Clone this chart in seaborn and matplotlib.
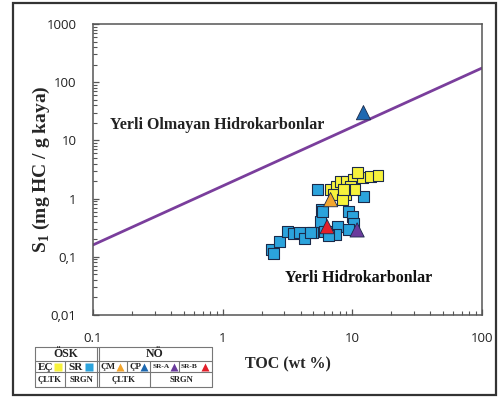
import matplotlib
matplotlib.use("Agg")
import matplotlib.pyplot as plt
from matplotlib.lines import Line2D
from matplotlib.patches import Rectangle
import seaborn as sns
import pandas as pd

# --- data -------------------------------------------------------------
# ÖSK samples (squares)
ec_toc = [6.8, 7.6, 8.1, 9.1, 10.2, 11.9, 13.8, 15.8, 10.9, 9.7, 8.8, 7.1, 8.4, 10.5, 8.6]
ec_s1 = [1.43, 1.61, 1.96, 1.96, 2.13, 2.30, 2.40, 2.50, 2.80, 1.61, 1.17, 1.17, 0.96, 1.43, 1.43]

sr_toc = [2.37, 2.46, 2.73, 3.15, 3.50, 3.90, 4.26, 4.91, 5.37, 5.77, 5.66, 5.9,
          6.08, 6.5, 7.65, 7.39, 4.74, 9.3, 10.0, 10.2, 9.3, 12.2, 6.6]
sr_s1 = [0.132, 0.113, 0.18, 0.27, 0.25, 0.26, 0.21, 0.26, 1.43, 0.65, 0.40, 0.60,
         0.27, 0.27, 0.33, 0.24, 0.26, 0.60, 0.49, 0.38, 0.29, 1.08, 0.23]

# NÖ samples (triangles)
cm_toc, cm_s1 = [6.8], [0.96]
cp_toc, cp_s1 = [12.2], [30.0]
sra_toc, sra_s1 = [10.9], [0.29]
srb_toc, srb_s1 = [6.4], [0.33]

# boundary line between indigenous / non-indigenous hydrocarbons
line_toc = [0.1, 100]
line_s1 = [0.16, 175]

y_ticks = [0.01, 0.1, 1, 10, 100, 1000]
y_tick_labels = ["0,01", "0,1", "1", "10", "100", "1000"]
x_ticks = [0.1, 1, 10, 100]
x_tick_labels = ["0.1", "1", "10", "100"]

# --- style --------------------------------------------------------------
sns.set_style("white")
plt.rcParams["mathtext.fontset"] = "custom"
plt.rcParams["mathtext.rm"] = "Liberation Serif:bold"
plt.rcParams["mathtext.bf"] = "Liberation Serif:bold"
plt.rcParams["font.family"] = ["Open Sans", "DejaVu Sans"]

colors = {
    "EÇ": "#F7F23C",
    "SR": "#2BA3DC",
    "ÇM": "#F2A52E",
    "ÇP": "#1D68B0",
    "SR-A": "#6A3B9C",
    "SR-B": "#E3202B",
}
edge = "#1B2A4A"
serif = "Liberation Serif"

squares = pd.concat([
    pd.DataFrame({"TOC": sr_toc, "S1": sr_s1, "grp": "SR"}),
    pd.DataFrame({"TOC": ec_toc, "S1": ec_s1, "grp": "EÇ"}),
], ignore_index=True)
triangles = pd.concat([
    pd.DataFrame({"TOC": cm_toc, "S1": cm_s1, "grp": "ÇM"}),
    pd.DataFrame({"TOC": cp_toc, "S1": cp_s1, "grp": "ÇP"}),
    pd.DataFrame({"TOC": sra_toc, "S1": sra_s1, "grp": "SR-A"}),
    pd.DataFrame({"TOC": srb_toc, "S1": srb_s1, "grp": "SR-B"}),
], ignore_index=True)

fig = plt.figure(figsize=(4.98, 3.99), dpi=100)
ax = fig.add_axes([0.1867, 0.2105, 0.781, 0.7293])
ax.set_xscale("log")
ax.set_yscale("log")

sns.lineplot(x=line_toc, y=line_s1, ax=ax, color="#7A3E9C", linewidth=2.0, zorder=2)
sns.scatterplot(data=squares, x="TOC", y="S1", hue="grp", palette=colors, marker="s",
                s=62, edgecolor=edge, linewidth=0.8, legend=False, ax=ax, zorder=3)
sns.scatterplot(data=triangles, x="TOC", y="S1", hue="grp", palette=colors, marker="^",
                s=105, edgecolor=edge, linewidth=0.6, legend=False, ax=ax, zorder=4)

ax.set_xlim(0.1, 100)
ax.set_ylim(0.01, 1000)
ax.set_xticks(x_ticks, labels=x_tick_labels)
ax.set_yticks(y_ticks, labels=y_tick_labels)
ax.tick_params(axis="both", which="both", direction="in", colors="#555555",
               labelcolor="#222222", labelsize=9.5)
ax.tick_params(axis="x", which="both", top=False, bottom=True, pad=12)
ax.tick_params(axis="y", which="both", left=True, right=False, pad=12)
ax.tick_params(which="major", length=4, width=0.9)
ax.tick_params(which="minor", length=3, width=0.8)
for sp in ax.spines.values():
    sp.set_color("#555555")
    sp.set_linewidth(1.1)

ax.set_xlabel("TOC (wt %)", family=serif, fontweight="bold", fontsize=11.5)
ax.set_ylabel(r"S$_1$ (mg HC / g kaya)", family=serif, fontweight="bold", fontsize=14)
ax.yaxis.set_label_coords(-0.105, 0.5)
ax.xaxis.set_label_coords(0.5, -0.142)

ax.text(0.135, 18.5, "Yerli Olmayan Hidrokarbonlar", family=serif, fontweight="bold",
        fontsize=11.5, ha="left", va="center", color="#222222")
ax.text(11.1, 0.043, "Yerli Hidrokarbonlar", family=serif, fontweight="bold",
        fontsize=11.5, ha="center", va="center", color="#111111")

# --- outer frame ---------------------------------------------------------
W, H = 498.0, 399.0
fig.patches.append(Rectangle((13 / W, 4 / H), (496 - 13) / W, (396 - 4) / H,
                             transform=fig.transFigure, fill=False,
                             edgecolor="#333333", linewidth=1.6))

# --- symbol key table ---------------------------------------------------
def fx(px):
    return px / W


def fy(py):
    return 1 - py / H


tc = "#777777"
x0, x1 = 35, 212
y_rows = [347, 361, 372, 387]
for y in y_rows:
    fig.add_artist(Line2D([fx(x0), fx(x1)], [fy(y), fy(y)], color=tc, lw=0.8))
for x in (x0, x1, 97, 99):
    fig.add_artist(Line2D([fx(x), fx(x)], [fy(347), fy(387)], color=tc, lw=0.8))
fig.add_artist(Line2D([fx(65), fx(65)], [fy(361), fy(387)], color=tc, lw=0.8))
fig.add_artist(Line2D([fx(150), fx(150)], [fy(361), fy(387)], color=tc, lw=0.8))
for x in (127, 179):
    fig.add_artist(Line2D([fx(x), fx(x)], [fy(361), fy(372)], color=tc, lw=0.8))

hdr = dict(family=serif, fontweight="bold", ha="center", va="center", color="#222222")
fig.text(fx(66), fy(354), "ÖSK", fontsize=8.5, **hdr)
fig.text(fx(155), fy(354), "NÖ", fontsize=8.5, **hdr)
fig.text(fx(50), fy(380), "ÇLTK", fontsize=6.2, **hdr)
fig.text(fx(81), fy(380), "SRGN", fontsize=6.2, **hdr)
fig.text(fx(124), fy(380), "ÇLTK", fontsize=6.2, **hdr)
fig.text(fx(181), fy(380), "SRGN", fontsize=6.2, **hdr)

key = [
    ("EÇ", 46, 58, "s", "EÇ", 8.0),
    ("SR", 76, 89, "s", "SR", 8.0),
    ("ÇM", 108, 120, "^", "ÇM", 6.5),
    ("ÇP", 135, 144, "^", "ÇP", 6.5),
    ("SR-A", 161, 174, "^", "SR-A", 5.3),
    ("SR-B", 189, 205, "^", "SR-B", 5.3),
]
for label, tx, mx, mk, grp, fs in key:
    fig.text(fx(tx), fy(367), label, fontsize=fs, **hdr)
    fig.add_artist(Line2D([fx(mx)], [fy(367)], marker=mk, markersize=6,
                          markerfacecolor=colors[grp], markeredgecolor="none",
                          linestyle="none"))

fig.savefig("out.png", dpi=100)
